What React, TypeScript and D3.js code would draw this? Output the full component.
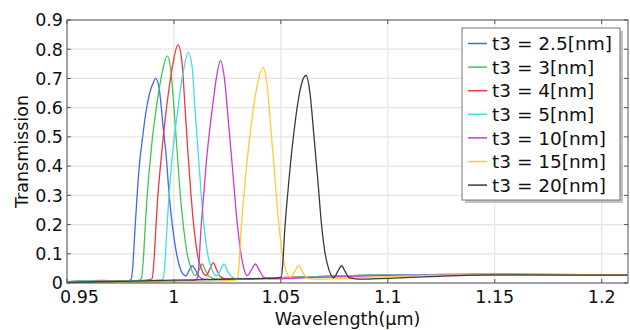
import React, { useRef, useEffect } from "react";
import * as d3 from "d3";

// wavelength (um) / transmission pairs
const t25: [number, number][] = [
  [0.95, 0.004], [0.956, 0.006], [0.962, 0.005], [0.968, 0.007], [0.974, 0.006], [0.9785, 0.008],
  [0.98, 0.012], [0.9808, 0.06], [0.9816, 0.16], [0.9826, 0.28], [0.9838, 0.4], [0.9852, 0.49],
  [0.9868, 0.58], [0.9885, 0.645], [0.99, 0.68], [0.9915, 0.7], [0.9932, 0.66], [0.995, 0.53],
  [0.9962, 0.45], [0.9978, 0.3], [0.9992, 0.2], [1.001, 0.11], [1.0025, 0.06], [1.004, 0.033],
  [1.0057, 0.024], [1.0072, 0.045], [1.0086, 0.059], [1.01, 0.045], [1.0118, 0.022], [1.014, 0.013],
  [1.02, 0.011], [1.03, 0.013], [1.05, 0.018], [1.07, 0.022], [1.1, 0.027], [1.15, 0.029], [1.212, 0.028]
];
const t3: [number, number][] = [
  [0.95, 0.005], [0.957, 0.007], [0.964, 0.006], [0.971, 0.008], [0.978, 0.007], [0.9835, 0.009],
  [0.9848, 0.015], [0.9856, 0.07], [0.9864, 0.17], [0.9874, 0.29], [0.9888, 0.41], [0.99, 0.5],
  [0.9914, 0.58], [0.993, 0.66], [0.9945, 0.72], [0.9969, 0.777], [0.9985, 0.73], [1.0002, 0.58],
  [1.0015, 0.45], [1.003, 0.3], [1.0045, 0.19], [1.0062, 0.1], [1.008, 0.05], [1.01, 0.026],
  [1.0118, 0.045], [1.0132, 0.065], [1.0146, 0.045], [1.0165, 0.022], [1.019, 0.014], [1.03, 0.013],
  [1.05, 0.018], [1.07, 0.023], [1.1, 0.028], [1.15, 0.03], [1.212, 0.028]
];
const t4: [number, number][] = [
  [0.95, 0.004], [0.958, 0.006], [0.966, 0.009], [0.974, 0.007], [0.982, 0.008], [0.988, 0.011],
  [0.9898, 0.015], [0.9906, 0.07], [0.9914, 0.17], [0.9924, 0.29], [0.9938, 0.41], [0.995, 0.5],
  [0.9962, 0.58], [0.9978, 0.67], [0.9995, 0.75], [1.0019, 0.815], [1.0037, 0.76], [1.0052, 0.6],
  [1.0065, 0.45], [1.008, 0.3], [1.0095, 0.18], [1.0112, 0.09], [1.013, 0.045], [1.015, 0.025],
  [1.0168, 0.048], [1.0184, 0.07], [1.0198, 0.048], [1.0217, 0.022], [1.024, 0.014], [1.035, 0.014],
  [1.05, 0.018], [1.07, 0.023], [1.1, 0.028], [1.15, 0.03], [1.212, 0.028]
];
const t5: [number, number][] = [
  [0.95, 0.005], [0.96, 0.007], [0.97, 0.006], [0.98, 0.008], [0.99, 0.009], [0.9942, 0.011],
  [0.995, 0.015], [0.9958, 0.07], [0.9966, 0.17], [0.9976, 0.29], [0.9989, 0.41], [1.0002, 0.5],
  [1.0016, 0.58], [1.0032, 0.67], [1.0048, 0.74], [1.0067, 0.789], [1.0085, 0.74], [1.01, 0.58],
  [1.0114, 0.44], [1.0128, 0.3], [1.0143, 0.18], [1.016, 0.09], [1.0178, 0.045], [1.02, 0.024],
  [1.0218, 0.045], [1.0234, 0.065], [1.0248, 0.045], [1.0268, 0.022], [1.03, 0.013], [1.05, 0.018],
  [1.07, 0.023], [1.1, 0.028], [1.15, 0.03], [1.212, 0.028]
];
const t10: [number, number][] = [
  [0.95, 0.002], [0.97, 0.003], [0.99, 0.004], [1.0, 0.006], [1.008, 0.008], [1.0104, 0.011],
  [1.0111, 0.02], [1.0118, 0.08], [1.0126, 0.18], [1.0138, 0.29], [1.0151, 0.41], [1.0165, 0.51],
  [1.018, 0.6], [1.0198, 0.7], [1.0218, 0.761], [1.0236, 0.7], [1.0255, 0.55], [1.0273, 0.4],
  [1.029, 0.25], [1.0306, 0.14], [1.0322, 0.065], [1.0343, 0.025], [1.0362, 0.045], [1.0381, 0.065],
  [1.0398, 0.045], [1.042, 0.02], [1.045, 0.014], [1.06, 0.018], [1.08, 0.022], [1.1, 0.026],
  [1.15, 0.029], [1.212, 0.028]
];
const t15: [number, number][] = [
  [0.95, 0.001], [0.98, 0.002], [1.0, 0.004], [1.015, 0.006], [1.025, 0.008], [1.0292, 0.011],
  [1.0299, 0.02], [1.0306, 0.08], [1.0314, 0.18], [1.0326, 0.29], [1.0341, 0.41], [1.0356, 0.51],
  [1.0372, 0.6], [1.0393, 0.69], [1.0417, 0.737], [1.0435, 0.68], [1.0453, 0.53], [1.047, 0.38],
  [1.0487, 0.23], [1.0503, 0.12], [1.052, 0.05], [1.0545, 0.02], [1.0565, 0.04], [1.0584, 0.06],
  [1.06, 0.04], [1.062, 0.018], [1.065, 0.013], [1.08, 0.016], [1.1, 0.022], [1.13, 0.027],
  [1.16, 0.029], [1.212, 0.028]
];
const t20: [number, number][] = [
  [0.95, 0.002], [0.97, 0.005], [0.99, 0.008], [1.01, 0.011], [1.03, 0.014], [1.046, 0.016],
  [1.0502, 0.02], [1.051, 0.08], [1.0518, 0.18], [1.053, 0.29], [1.0545, 0.41], [1.056, 0.51],
  [1.0576, 0.6], [1.0596, 0.68], [1.0618, 0.71], [1.0636, 0.65], [1.0655, 0.5], [1.0673, 0.35],
  [1.069, 0.2], [1.0707, 0.1], [1.0725, 0.045], [1.0748, 0.018], [1.0766, 0.04], [1.0784, 0.059],
  [1.08, 0.04], [1.082, 0.018], [1.086, 0.013], [1.1, 0.016], [1.12, 0.022], [1.15, 0.028], [1.212, 0.027]
];

const seriesNames = ["t3 = 2.5[nm]", "t3 = 3[nm]", "t3 = 4[nm]", "t3 = 5[nm]", "t3 = 10[nm]", "t3 = 15[nm]", "t3 = 20[nm]"];
const seriesData = [t25, t3, t4, t5, t10, t15, t20];
const colors = ["#4466f0", "#44c455", "#ea3a3a", "#44dede", "#cc3ccc", "#ffc93a", "#3a3a3a"];

const xTicks = [0.95, 1, 1.05, 1.1, 1.15, 1.2];
const xTickLabels = ["0.95", "1", "1.05", "1.1", "1.15", "1.2"];
const yTicks = [0, 0.1, 0.2, 0.3, 0.4, 0.5, 0.6, 0.7, 0.8, 0.9];
const yTickLabels = ["0", "0.1", "0.2", "0.3", "0.4", "0.5", "0.6", "0.7", "0.8", "0.9"];

const width = 630;
const height = 330;
const margin = { top: 20, right: 2, bottom: 47, left: 67 };
const font = "'DejaVu Sans', sans-serif";

const App = () => {
  const svgRef = useRef<SVGSVGElement>(null);

  useEffect(() => {
    const svg = d3.select(svgRef.current);
    svg.selectAll("*").remove();

    const x = d3.scaleLinear().domain([0.95, 1.2123]).range([margin.left, width - margin.right]);
    const y = d3.scaleLinear().domain([0, 0.9]).range([height - margin.bottom, margin.top]);
    const x0 = margin.left, x1 = width - margin.right, y0 = height - margin.bottom, y1 = margin.top;

    svg.append("rect").attr("width", width).attr("height", height).attr("fill", "#fff");

    // grid
    const grid = svg.append("g").attr("stroke", "#e4e4e4").attr("stroke-width", 1.2);
    xTicks.forEach((t) => {
      grid.append("line").attr("x1", x(t)).attr("x2", x(t)).attr("y1", y0).attr("y2", y1);
    });
    yTicks.forEach((t) => {
      grid.append("line").attr("x1", x0).attr("x2", x1).attr("y1", y(t)).attr("y2", y(t));
    });

    // curves
    const myLine = d3.line<[number, number]>()
      .x((d) => x(d[0]))
      .y((d) => y(d[1]))
      .curve(d3.curveMonotoneX);

    svg.append("defs").append("clipPath").attr("id", "plotclip")
      .append("rect").attr("x", x0).attr("y", y1).attr("width", x1 - x0).attr("height", y0 - y1);

    svg.append("g").attr("clip-path", "url(#plotclip)")
      .selectAll(".line")
      .data(seriesData)
      .enter()
      .append("path")
      .attr("class", "line")
      .attr("d", (d) => myLine(d))
      .attr("fill", "none")
      .attr("stroke", (d, i) => colors[i])
      .attr("stroke-width", 1.3);

    // frame and inward ticks
    const frame = svg.append("g").attr("stroke", "#555").attr("stroke-width", 1);
    frame.append("rect").attr("x", x0).attr("y", y1).attr("width", x1 - x0).attr("height", y0 - y1).attr("fill", "none");
    xTicks.forEach((t) => {
      frame.append("line").attr("x1", x(t)).attr("x2", x(t)).attr("y1", y0).attr("y2", y0 - 4);
      frame.append("line").attr("x1", x(t)).attr("x2", x(t)).attr("y1", y1).attr("y2", y1 + 4);
    });
    yTicks.forEach((t) => {
      frame.append("line").attr("x1", x0).attr("x2", x0 + 4).attr("y1", y(t)).attr("y2", y(t));
      frame.append("line").attr("x1", x1).attr("x2", x1 - 4).attr("y1", y(t)).attr("y2", y(t));
    });

    // tick labels
    svg.append("g").selectAll("text").data(xTicks).enter().append("text")
      .attr("x", (d, i) => (i === 0 ? x(d) - 7 : x(d)))
      .attr("y", 303)
      .attr("text-anchor", (d, i) => (i === 0 ? "start" : "middle"))
      .attr("font-family", font).attr("font-size", 17.5).attr("fill", "#111")
      .text((d, i) => xTickLabels[i]);

    svg.append("g").selectAll("text").data(yTicks).enter().append("text")
      .attr("x", 63)
      .attr("y", (d) => y(d))
      .attr("dy", "0.36em")
      .attr("text-anchor", "end")
      .attr("font-family", font).attr("font-size", 17.5).attr("fill", "#111")
      .text((d, i) => yTickLabels[i]);

    // axis titles
    svg.append("text").attr("x", (x0 + x1) / 2).attr("y", 325).attr("text-anchor", "middle")
      .attr("font-family", font).attr("font-size", 17.5).attr("fill", "#111")
      .text("Wavelength(\u00b5m)");
    svg.append("text").attr("transform", "translate(28," + (y0 + y1) / 2 + ") rotate(-90)")
      .attr("text-anchor", "middle")
      .attr("font-family", font).attr("font-size", 17.5).attr("fill", "#111")
      .text("Transmission");

    // legend
    const lg = svg.append("g");
    lg.append("rect").attr("x", 465).attr("y", 31).attr("width", 158).attr("height", 172).attr("fill", "#999").attr("opacity", 0.6);
    lg.append("rect").attr("x", 462).attr("y", 28).attr("width", 158).attr("height", 172)
      .attr("fill", "#fff").attr("stroke", "#777").attr("stroke-width", 1);
    seriesNames.forEach((name, i) => {
      const ly = 43.5 + i * 23.6;
      lg.append("line").attr("x1", 468).attr("x2", 487).attr("y1", ly).attr("y2", ly)
        .attr("stroke", colors[i]).attr("stroke-width", 1.5);
      lg.append("text").attr("x", 492).attr("y", ly).attr("dy", "0.36em")
        .attr("font-family", font).attr("font-size", 18.5).attr("fill", "#111")
        .text(name);
    });
  }, []);

  return (
    <div className="chart" style={{ position: "absolute", left: 0, top: 0 }}>
      <svg ref={svgRef} width={width} height={height} style={{ display: "block" }}></svg>
    </div>
  );
};

export default App;
